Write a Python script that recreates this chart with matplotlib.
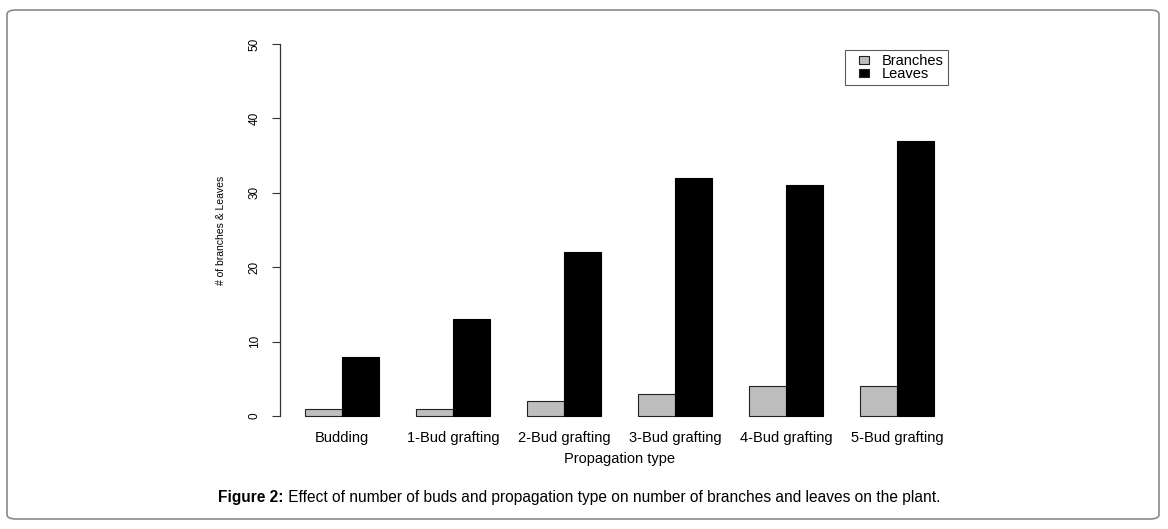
import matplotlib
matplotlib.use("Agg")
import matplotlib.pyplot as plt
from matplotlib.patches import FancyBboxPatch
from matplotlib.lines import Line2D
import numpy as np

categories = ["Budding", "1-Bud grafting", "2-Bud grafting", "3-Bud grafting", "4-Bud grafting", "5-Bud grafting"]
branches = [1, 1, 2, 3, 4, 4]
leaves = [8, 13, 22, 32, 31, 37]
y_ticks = [0, 10, 20, 30, 40, 50]
series_names = ["Branches", "Leaves"]
series_colors = ["#bebebe", "black"]

plt.rcParams['font.family'] = ['Liberation Sans', 'DejaVu Sans']

W, H = 1168, 529
fig = plt.figure(figsize=(W / 100, H / 100), dpi=100)

# outer rounded border
border = FancyBboxPatch((7 / W, 10 / H), (1159 - 7) / W, (519 - 10) / H,
                        boxstyle="round,pad=0,rounding_size=0.008",
                        transform=fig.transFigure, fill=False,
                        edgecolor="#8a8a8a", linewidth=1.2)
fig.patches.append(border)

left, right = 280 / W, 959 / W
bottom, top = (H - 431) / H, (H - 29) / H
ax = fig.add_axes([left, bottom, right - left, top - bottom])

n = len(categories)
xb = np.array([1.5 + 3 * i for i in range(n)])
xl = xb + 1
ax.bar(xb, branches, width=1.0, color=series_colors[0], edgecolor="#222222", linewidth=0.8)
ax.bar(xl, leaves, width=1.0, color=series_colors[1], edgecolor="black", linewidth=0.8)

ax.set_xlim(0.32, 18.68)
ax.set_ylim(-2, 52)

for s in ["top", "right", "bottom"]:
    ax.spines[s].set_visible(False)
ax.spines["left"].set_bounds(0, 50)
ax.spines["left"].set_color("#333333")
ax.spines["left"].set_linewidth(0.9)

ax.set_yticks(y_ticks)
ax.set_yticklabels([str(v) for v in y_ticks], rotation=90, va="center", fontsize=8.5)
ax.tick_params(axis="y", length=6, width=0.8, color="#333333", pad=8)

ax.set_xticks(xb + 0.5)
ax.set_xticklabels(categories, fontsize=10.5)
ax.tick_params(axis="x", length=0, pad=0)

ax.set_xlabel("Propagation type", fontsize=10.5, labelpad=5)
ax.set_ylabel("# of branches & Leaves", fontsize=7.5, labelpad=16)

rect_marker = [(-1, -0.7), (1, -0.7), (1, 0.7), (-1, 0.7), (-1, -0.7)]
handles = [Line2D([], [], linestyle="none", marker=rect_marker, markersize=7.5,
                  markerfacecolor=c, markeredgecolor="#222222", markeredgewidth=0.8)
           for c in series_colors]
leg = ax.legend(handles, series_names, loc="upper right",
                bbox_to_anchor=(948 / W, (H - 50) / H),
                bbox_transform=fig.transFigure, fontsize=10.5, frameon=True,
                fancybox=False, handlelength=1.9, handletextpad=0.3,
                borderpad=0.3, labelspacing=-0.12, borderaxespad=0)
leg.get_frame().set_edgecolor("#333333")
leg.get_frame().set_linewidth(0.8)

cap_font = ['Liberation Sans', 'DejaVu Sans']
t1 = fig.text(218 / W, (H - 502) / H, "Figure 2:", fontsize=11.2, fontweight="bold",
              family=cap_font, va="baseline", ha="left")
ax.annotate(" Effect of number of buds and propagation type on number of branches and leaves on the plant.",
            xy=(1, 0), xycoords=t1, va="bottom", ha="left", fontsize=11.2,
            family=cap_font, annotation_clip=False)

fig.savefig("out.png", dpi=100)
